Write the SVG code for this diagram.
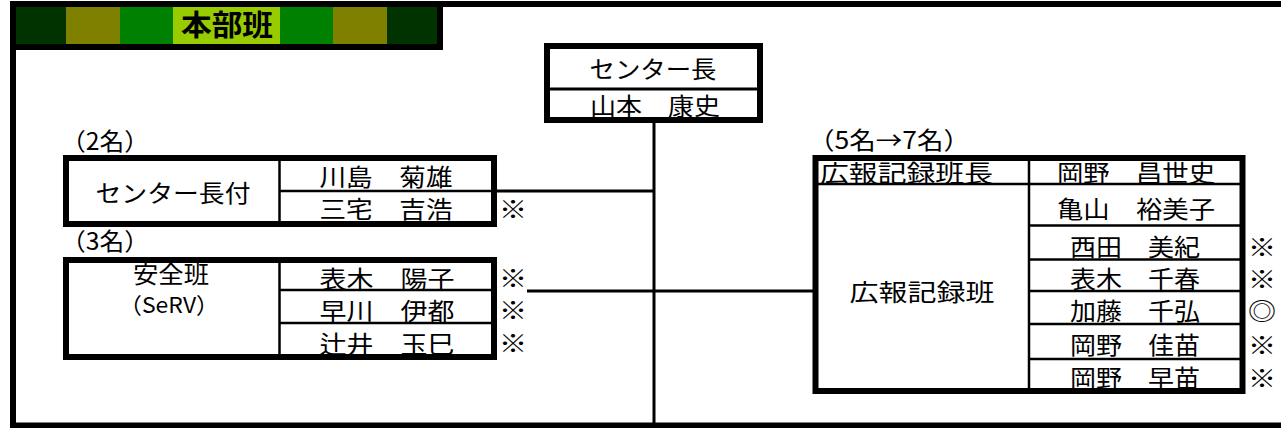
<svg xmlns="http://www.w3.org/2000/svg" width="1281" height="428" viewBox="0 0 1281 428">
<style>
.t{font-family:"Noto Sans CJK JP","Noto Sans CJK SC",sans-serif;font-size:24px;fill:#000}
.s{font-size:22px}
.c{text-anchor:middle}
.box{fill:#fff;stroke:#000;stroke-width:6}
.ln{stroke:#000;stroke-width:3;fill:none}
.thin{stroke:#000;stroke-width:2.5;fill:none}
</style>
<rect x="0" y="0" width="1281" height="428" fill="#fff"/>
<g id="frame">
<path d="M1290 4 H13 V425.5 H1290" fill="none" stroke="#000" stroke-width="6"/>
</g>
<g id="header">
<rect x="16" y="7" width="50" height="37" fill="#003300"/>
<rect x="66" y="7" width="54" height="37" fill="#808000"/>
<rect x="120" y="7" width="53" height="37" fill="#008000"/>
<rect x="173" y="7" width="107" height="37" fill="#99CC00"/>
<rect x="280" y="7" width="53" height="37" fill="#008000"/>
<rect x="333" y="7" width="54" height="37" fill="#808000"/>
<rect x="387" y="7" width="50" height="37" fill="#003300"/>
<rect x="13" y="4" width="427" height="43" fill="none" stroke="#000" stroke-width="6"/>
<text class="t c" x="227" y="36" style="font-size:29px;font-weight:bold" textLength="92" lengthAdjust="spacingAndGlyphs">本部班</text>
</g>
<g id="connectors">
<line class="ln" x1="654" y1="123" x2="654" y2="423"/>
<line class="ln" x1="497" y1="191" x2="654" y2="191"/>
<line class="ln" x1="527" y1="291" x2="813" y2="291"/>
</g>
<g id="center-chief">
<rect class="box" x="547" y="46" width="213" height="74"/>
<line class="ln" x1="547" y1="89" x2="760" y2="89"/>
<text class="t c" x="653" y="78" textLength="127" lengthAdjust="spacingAndGlyphs">センター長</text>
<text class="t c" x="655" y="115" textLength="130" lengthAdjust="spacingAndGlyphs">山本　康史</text>
</g>
<g id="chief-aide">
<text class="t" x="61" y="150" textLength="88" lengthAdjust="spacingAndGlyphs">（2名）</text>
<rect class="box" x="66" y="158" width="428" height="66"/>
<line class="thin" x1="279.5" y1="161" x2="279.5" y2="221"/>
<line class="thin" x1="279" y1="191" x2="491" y2="191"/>
<text class="t c" x="173" y="202" textLength="155" lengthAdjust="spacingAndGlyphs">センター長付</text>
<text class="t c" x="386" y="186" textLength="133" lengthAdjust="spacingAndGlyphs">川島　菊雄</text>
<text class="t c" x="386" y="218" textLength="133" lengthAdjust="spacingAndGlyphs">三宅　吉浩</text>
<text class="t" x="499" y="218" textLength="28" lengthAdjust="spacingAndGlyphs">※</text>
</g>
<g id="safety">
<text class="t" x="61" y="250" textLength="88" lengthAdjust="spacingAndGlyphs">（3名）</text>
<rect class="box" x="66" y="260" width="428" height="97"/>
<line class="thin" x1="279.5" y1="263" x2="279.5" y2="354"/>
<line class="thin" x1="279" y1="290" x2="491" y2="290"/>
<line class="thin" x1="279" y1="323" x2="491" y2="323"/>
<text class="t c" x="171" y="283" textLength="76" lengthAdjust="spacingAndGlyphs">安全班</text>
<text class="t c s" x="169" y="313" textLength="100" lengthAdjust="spacingAndGlyphs">（SeRV）</text>
<text class="t c" x="387" y="288" textLength="135" lengthAdjust="spacingAndGlyphs">表木　陽子</text>
<text class="t c" x="387" y="320" textLength="135" lengthAdjust="spacingAndGlyphs">早川　伊都</text>
<text class="t c" x="387" y="353" textLength="135" lengthAdjust="spacingAndGlyphs">辻井　玉巳</text>
<text class="t" x="499" y="287" textLength="28" lengthAdjust="spacingAndGlyphs">※</text>
<text class="t" x="499" y="319" textLength="28" lengthAdjust="spacingAndGlyphs">※</text>
<text class="t" x="499" y="352" textLength="28" lengthAdjust="spacingAndGlyphs">※</text>
</g>
<g id="pr-record">
<text class="t" x="808" y="149" textLength="162" lengthAdjust="spacingAndGlyphs">（5名→7名）</text>
<rect class="box" x="815.5" y="158" width="427" height="233"/>
<line class="thin" x1="1029" y1="161" x2="1029" y2="391"/>
<line class="thin" x1="818" y1="184" x2="1240" y2="184"/>
<line class="thin" x1="1029" y1="225.5" x2="1240" y2="225.5"/>
<line class="thin" x1="1029" y1="259.5" x2="1240" y2="259.5"/>
<line class="thin" x1="1029" y1="291" x2="1240" y2="291"/>
<line class="thin" x1="1029" y1="324" x2="1240" y2="324"/>
<line class="thin" x1="1029" y1="359" x2="1240" y2="359"/>
<text class="t" x="820" y="182" textLength="173" lengthAdjust="spacingAndGlyphs">広報記録班長</text>
<text class="t c" x="922" y="301" textLength="145" lengthAdjust="spacingAndGlyphs">広報記録班</text>
<text class="t c" x="1136" y="182" textLength="158" lengthAdjust="spacingAndGlyphs">岡野　昌世史</text>
<text class="t c" x="1136" y="218" textLength="158" lengthAdjust="spacingAndGlyphs">亀山　裕美子</text>
<text class="t c" x="1135" y="256" textLength="130" lengthAdjust="spacingAndGlyphs">西田　美紀</text>
<text class="t c" x="1135" y="288" textLength="130" lengthAdjust="spacingAndGlyphs">表木　千春</text>
<text class="t c" x="1135" y="320" textLength="130" lengthAdjust="spacingAndGlyphs">加藤　千弘</text>
<text class="t c" x="1135" y="354" textLength="130" lengthAdjust="spacingAndGlyphs">岡野　佳苗</text>
<text class="t c" x="1135" y="387" textLength="130" lengthAdjust="spacingAndGlyphs">岡野　早苗</text>
<text class="t" x="1248" y="256" textLength="28" lengthAdjust="spacingAndGlyphs">※</text>
<text class="t" x="1248" y="288" textLength="28" lengthAdjust="spacingAndGlyphs">※</text>
<text class="t" x="1248" y="320" textLength="28" lengthAdjust="spacingAndGlyphs">◎</text>
<text class="t" x="1248" y="354" textLength="28" lengthAdjust="spacingAndGlyphs">※</text>
<text class="t" x="1248" y="387" textLength="28" lengthAdjust="spacingAndGlyphs">※</text>
</g>
</svg>
